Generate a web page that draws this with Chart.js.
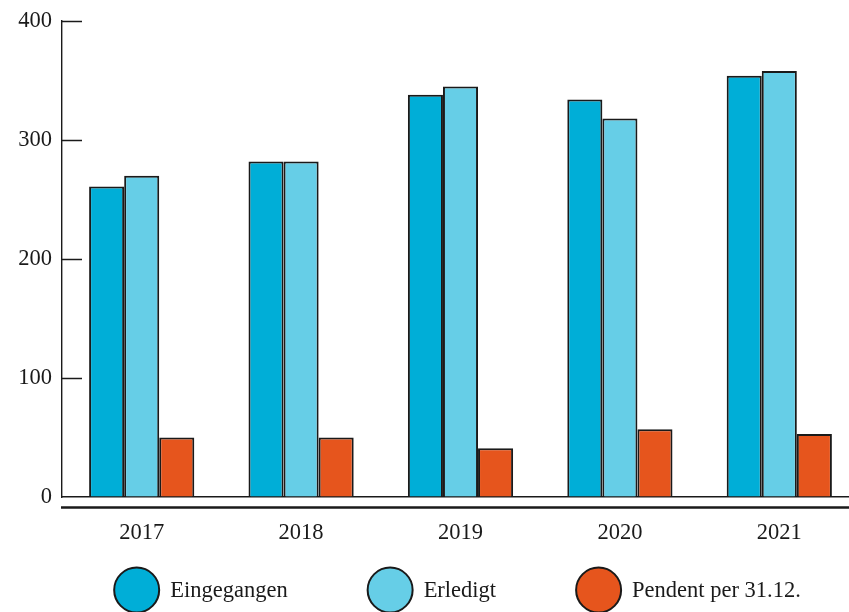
<!DOCTYPE html>
<html>
<head>
<meta charset="utf-8">
<script src="https://cdn.jsdelivr.net/npm/chart.js@4.4.1/dist/chart.umd.min.js"></script>
<style>
  html, body { margin: 0; padding: 0; background: #fff; overflow: hidden; }
  #wrap { width: 849px; height: 612px; overflow: hidden; }
</style>
</head>
<body>
<div id="wrap"><canvas id="c" width="860" height="612"></canvas></div>
<script>
const categories = ['2017', '2018', '2019', '2020', '2021'];
const eingegangen = [261, 282, 338, 334, 354];
const erledigt = [270, 282, 345, 318, 358];
const pendent = [50, 50, 41, 57, 53];
const seriesLabels = ['Eingegangen', 'Erledigt', 'Pendent per 31.12.'];
const seriesColors = ['#00aed7', '#66cee7', '#e6551d'];
const yTicks = [0, 100, 200, 300, 400];

const FONT = 'Liberation Serif, Times New Roman, serif';
const FSIZE = 22.5;
const INK = '#1a1a1a';

const decorPlugin = {
  id: 'decor',
  afterDraw(chart) {
    const ctx = chart.ctx;
    const area = chart.chartArea;
    const y = chart.scales.y;
    ctx.save();
    // inward tick marks
    ctx.strokeStyle = INK;
    ctx.lineWidth = 1.5;
    y.ticks.forEach(t => {
      if (t.value === 0) return;
      const py = Math.round(y.getPixelForValue(t.value)) + 0.5;
      ctx.beginPath();
      ctx.moveTo(area.left, py);
      ctx.lineTo(area.left + 20, py);
      ctx.stroke();
    });
    // second (lower) rule
    ctx.lineWidth = 2.4;
    ctx.beginPath();
    ctx.moveTo(area.left - 1, area.bottom + 10.5);
    ctx.lineTo(chart.width, area.bottom + 10.5);
    ctx.stroke();

    // legend
    ctx.font = FSIZE + 'px ' + FONT;
    ctx.textBaseline = 'middle';
    const r = 22.5, gapText = 11, gapItem = 80;
    const items = chart.data.datasets.map(ds => ({
      label: ds.label, color: ds.backgroundColor,
      w: 2 * r + gapText + ctx.measureText(ds.label).width
    }));
    const total = items.reduce((s, it) => s + it.w, 0) + gapItem * (items.length - 1);
    let x = (area.left + area.right) / 2 - 3 - total / 2;
    const cy = chart.height - 22;
    items.forEach(it => {
      ctx.beginPath();
      ctx.arc(x + r, cy, r, 0, Math.PI * 2);
      ctx.fillStyle = it.color;
      ctx.fill();
      ctx.lineWidth = 2;
      ctx.strokeStyle = INK;
      ctx.stroke();
      ctx.fillStyle = INK;
      ctx.textAlign = 'left';
      ctx.fillText(it.label, x + 2 * r + gapText, cy + 1);
      x += it.w + gapItem;
    });
    ctx.restore();
  }
};

const datasets = [eingegangen, erledigt, pendent].map((vals, i) => ({
  label: seriesLabels[i],
  data: vals,
  backgroundColor: seriesColors[i],
  borderColor: INK,
  borderWidth: 2,
  categoryPercentage: 0.66,
  barPercentage: 1.0
}));

new Chart(document.getElementById('c'), {
  type: 'bar',
  data: { labels: categories, datasets },
  options: {
    responsive: false,
    animation: false,
    devicePixelRatio: 1,
    layout: { padding: { top: 21, right: 1, left: 0, bottom: 0 } },
    plugins: { legend: { display: false }, tooltip: { enabled: false } },
    scales: {
      x: {
        offset: true,
        grid: { display: false, drawTicks: false },
        border: { display: true, color: INK, width: 1.6 },
        ticks: { padding: 23, color: INK, font: { family: FONT, size: FSIZE } },
        afterFit(scale) { scale.height = 115; scale.paddingLeft = 0; scale.paddingRight = 0; }
      },
      y: {
        min: 0, max: 400,
        afterBuildTicks(scale) { scale.ticks = yTicks.map(v => ({ value: v })); },
        grid: { display: true, drawOnChartArea: false, drawTicks: false, color: 'rgba(0,0,0,0)' },
        border: { display: true, color: INK, width: 1.4 },
        ticks: { padding: 10, color: INK, font: { family: FONT, size: FSIZE } },
        afterFit(scale) { scale.width = 62; scale.paddingTop = 0; scale.paddingBottom = 0; }
      }
    }
  },
  plugins: [decorPlugin]
});
</script>
</body>
</html>
